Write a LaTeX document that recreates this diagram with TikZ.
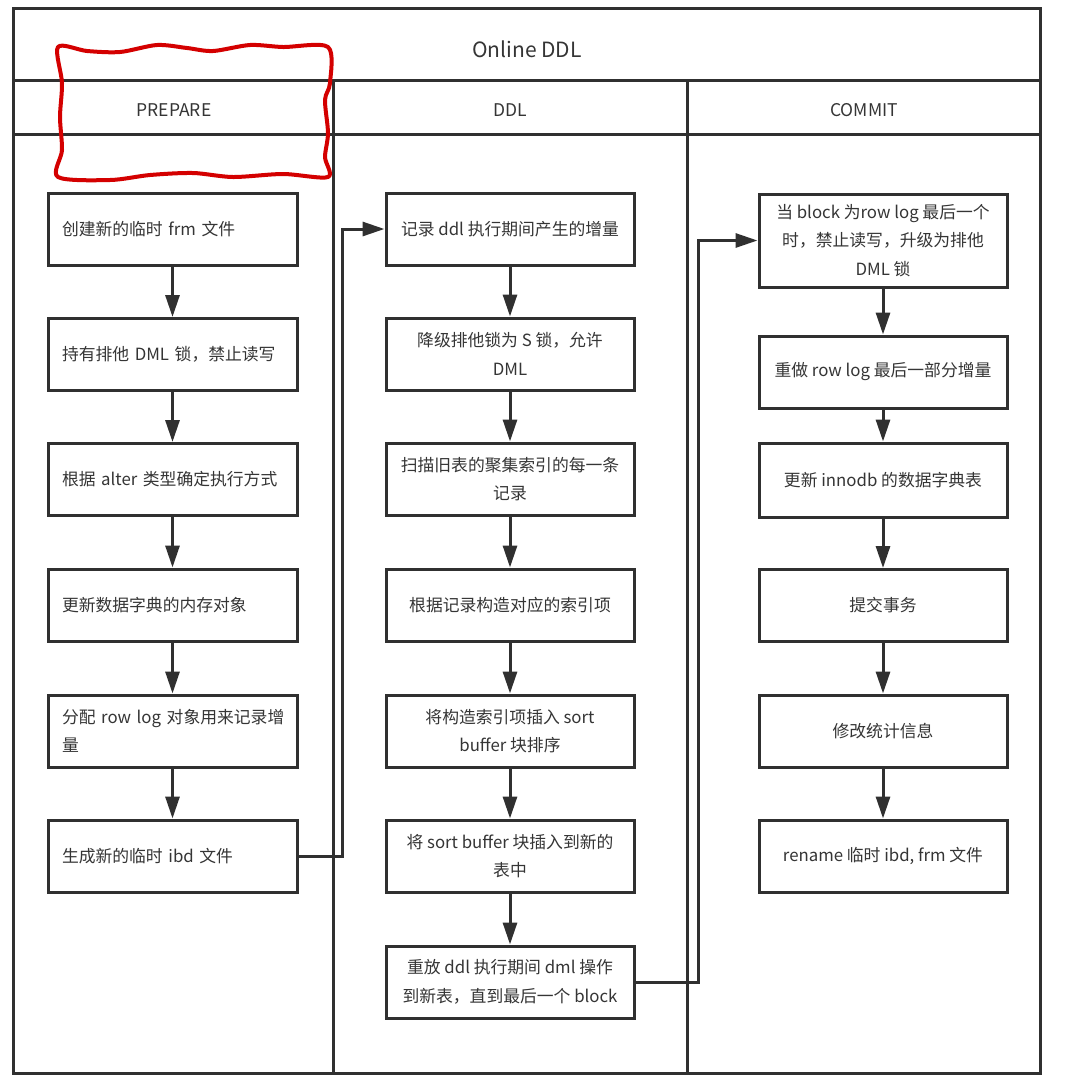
\documentclass[tikz,border=0pt]{standalone}
\usepackage{fontspec}
\setmainfont{Noto Sans CJK SC}
\usetikzlibrary{arrows.meta}
\definecolor{lc}{HTML}{303030}
\definecolor{tc}{HTML}{353535}
\definecolor{rc}{HTML}{D40000}
\tikzset{
  frame/.style={draw=lc, line width=3pt},
  stepbox/.style={draw=lc, line width=3pt, fill=white, minimum width=248pt, minimum height=72pt,
    inner sep=0pt, text=tc, font=\fontsize{16.8}{28.5}\selectfont, align=center},
  leftbox/.style={stepbox, minimum width=249pt, text width=221pt, align=left},
  hdr/.style={text=tc, font=\fontsize{17.5}{20}\selectfont, inner sep=0pt},
  arr/.style={draw=lc, line width=3pt, -{Triangle[length=22pt, width=14pt]}},
  link/.style={draw=lc, line width=3pt}
}
\begin{document}
\begin{tikzpicture}[x=1pt, y=-1pt]
\useasboundingbox (0,0) rectangle (1070,1088);
\fill[white] (0,0) rectangle (1070,1088);

% frame
\draw[frame] (13,8) rectangle (1040,1073);
\draw[frame] (13,80) -- (1040,80);
\draw[frame] (13,134) -- (1040,134);
\draw[frame] (333,80) -- (333,1073);
\draw[frame] (687,80) -- (687,1073);

\node[hdr, font=\fontsize{21}{25}\selectfont] (title) at (527,49) {Online DDL};
\node[hdr] (hprep) at (174,110) {PREPARE};
\node[hdr] (hddl) at (510,110) {DDL};
\node[hdr] (hcom) at (864,110) {COMMIT};

% PREPARE
\node[leftbox] (p1) at (172.5,229) {创建新的临时 frm 文件};
\node[leftbox] (p2) at (172.5,354.5) {持有排他 DML 锁，禁止读写};
\node[leftbox] (p3) at (172.5,479.5) {\mbox{根据 alter 类型确定执行方式}};
\node[leftbox] (p4) at (172.5,605) {更新数据字典的内存对象};
\node[leftbox] (p5) at (172.5,731) {\mbox{分配 row log 对象用来记录增}\\量};
\node[leftbox] (p6) at (172.5,856) {生成新的临时 ibd 文件};

% DDL
\node[stepbox] (d1) at (510,229) {记录 ddl 执行期间产生的增量};
\node[stepbox] (d2) at (510,354) {降级排他锁为 S 锁，允许\\DML};
\node[stepbox] (d3) at (510,479) {扫描旧表的聚集索引的每一条\\记录};
\node[stepbox] (d4) at (510,605) {根据记录构造对应的索引项};
\node[stepbox] (d5) at (510,731) {将构造索引项插入 sort\\buffer 块排序};
\node[stepbox] (d6) at (510,856) {将 sort buffer 块插入到新的\\表中};
\node[stepbox] (d7) at (510,982) {重放 ddl 执行期间 dml 操作\\到新表，直到最后一个 block};

% COMMIT
\node[stepbox, minimum height=93pt] (c1) at (883,240.5) {当 block 为row log 最后一个\\时，禁止读写，升级为排他\\DML 锁};
\node[stepbox] (c2) at (883,372) {重做 row log 最后一部分增量};
\node[stepbox, minimum height=74pt] (c3) at (883,480) {更新 innodb 的数据字典表};
\node[stepbox] (c4) at (883,605.5) {提交事务};
\node[stepbox] (c5) at (883,731) {修改统计信息};
\node[stepbox] (c6) at (883,856) {rename 临时 ibd, frm 文件};

% arrows
\foreach \a/\b in {p1/p2,p2/p3,p3/p4,p4/p5,p5/p6,
                   d1/d2,d2/d3,d3/d4,d4/d5,d5/d6,d6/d7,
                   c1/c2,c2/c3,c3/c4,c4/c5,c5/c6}
  \draw[arr] (\a.south) -- (\b.north);

\draw[arr] (p6.east) -- ++(44,0) |- (d1.west);
\draw[arr] (d7.east) -- ++(63,0) |- (c1.west);

% red hand-drawn box
\draw[rc, line width=4pt, line join=round]
  plot[smooth cycle, tension=0.5] coordinates {
    (58,47) (87,51) (120,52) (157,45) (187,48) (213,51) (250,45) (283,47) (328,47)
    (330,83) (325,100) (328,133) (325,157) (328,177)
    (283,174) (233,177) (193,173) (150,175) (110,180) (58,177)
    (62,150) (60,117) (62,83)};
\end{tikzpicture}
\end{document}
